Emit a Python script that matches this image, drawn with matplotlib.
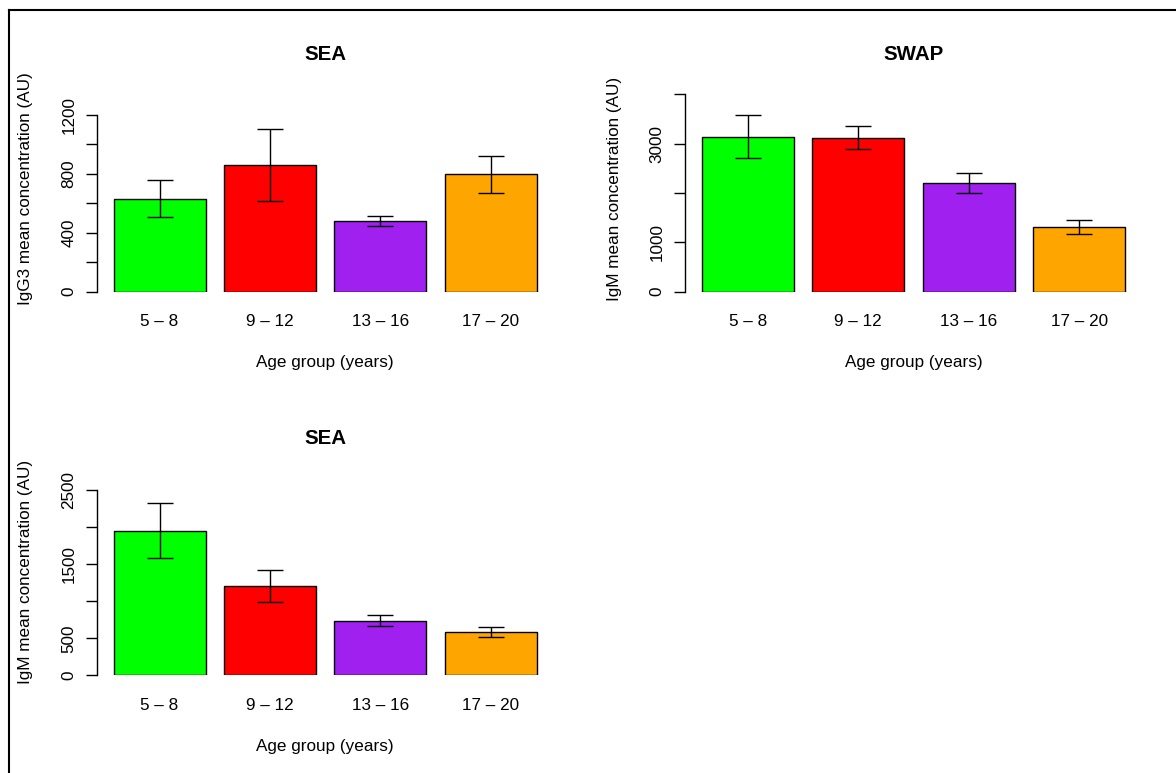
import matplotlib
matplotlib.use('Agg')
import matplotlib.pyplot as plt
from matplotlib.lines import Line2D
import numpy as np

plt.rcParams['font.family'] = ['Liberation Sans', 'DejaVu Sans']

# age groups and bar colours
groups = ['5 – 8', '9 – 12', '13 – 16', '17 – 20']
colors = ['#00FF00', '#FF0000', '#A020F0', '#FFA500']

# SEA IgG3
sea_igg3 = [632, 860, 480, 795]
sea_igg3_se = [125, 245, 36, 125]

# SWAP IgM
swap_igm = [3145, 3125, 2205, 1310]
swap_igm_se = [435, 230, 195, 142]

# SEA IgM
sea_igm = [1955, 1205, 740, 585]
sea_igm_se = [368, 215, 80, 67]

W, H = 1176, 773
fig = plt.figure(figsize=(W / 100, H / 100), dpi=100)

def px_axes(left, bottom, width, top):
    return fig.add_axes([left / W, 1 - bottom / H, width / W, (bottom - top) / H])

def panel(ax, vals, errs, ymax, yticks, ylabels, title, ylab):
    x = 0.7 + 1.2 * np.arange(len(vals))
    ax.bar(x, vals, width=1.0, color=colors, edgecolor='black', linewidth=1.0)
    ax.errorbar(x, vals, yerr=errs, fmt='none', ecolor='black',
                elinewidth=1.0, capsize=9.4, capthick=1.0)
    ax.set_xlim(0.016, 4.984)
    ax.set_ylim(0, ymax)
    for s in ['top', 'right', 'bottom']:
        ax.spines[s].set_visible(False)
    ax.spines['left'].set_bounds(yticks[0], yticks[-1])
    ax.spines['left'].set_linewidth(1.0)
    ax.set_yticks(yticks)
    ax.set_yticklabels(ylabels, rotation=90, va='center')
    ax.tick_params(axis='y', length=7.7, width=1.0, pad=6.8, labelsize=12.3)
    ax.set_xticks(x)
    ax.set_xticklabels(groups)
    ax.tick_params(axis='x', length=0, pad=16, labelsize=12.3)
    ax.annotate(title, xy=(0.5, 0), xycoords='axes fraction',
                xytext=(0, 237 * 0.72), textcoords='offset points',
                ha='center', va='center', fontsize=14.8, fontweight='bold')
    ax.annotate('Age group (years)', xy=(0.5, 0), xycoords='axes fraction',
                xytext=(0, -71 * 0.72), textcoords='offset points',
                ha='center', va='center', fontsize=12.3)
    ax.annotate(ylab, xy=(0, 0), xycoords='axes fraction',
                xytext=(-71 * 0.72, 103 * 0.72), textcoords='offset points',
                ha='center', va='center', rotation=90, fontsize=12.3)

ax1 = px_axes(96.7, 291.7, 457, 100)
panel(ax1, sea_igg3, sea_igg3_se, 1300, [0, 200, 400, 600, 800, 1000, 1200],
      ['0', '', '400', '', '800', '', '1200'], 'SEA',
      'IgG3 mean concentration (AU)')

ax2 = px_axes(685, 291.7, 457, 92)
panel(ax2, swap_igm, swap_igm_se, 4050, [0, 1000, 2000, 3000, 4000],
      ['0', '1000', '', '3000', ''], 'SWAP',
      'IgM mean concentration (AU)')

ax3 = px_axes(96.7, 675.3, 457, 480)
panel(ax3, sea_igm, sea_igm_se, 2640, [0, 500, 1000, 1500, 2000, 2500],
      ['0', '500', '', '1500', '', '2500'], 'SEA',
      'IgM mean concentration (AU)')

# frame lines along the top and left edges
fig.add_artist(Line2D([9 / W, 1], [1 - 10 / H, 1 - 10 / H], color='black', linewidth=1.5))
fig.add_artist(Line2D([9 / W, 9 / W], [0, 1 - 10 / H], color='black', linewidth=1.5))

fig.savefig('out.png', dpi=100, facecolor='white')
